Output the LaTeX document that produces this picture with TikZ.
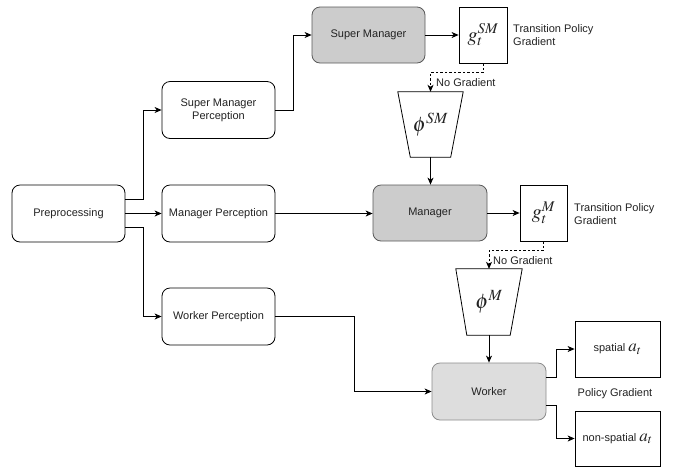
\documentclass[tikz,border=0pt]{standalone}
\usepackage{mathptmx}
\usepackage{fontspec}
\setmainfont{Liberation Sans}
\usetikzlibrary{arrows.meta,calc}
\definecolor{darkfill}{HTML}{CCCCCC}
\definecolor{lightfill}{HTML}{DDDDDD}
\definecolor{txt}{HTML}{222222}
\begin{document}
\begin{tikzpicture}[x=1pt,y=-1pt,
  every node/.style={text=txt},
  box/.style={draw, rounded corners=8pt, minimum width=113pt, minimum height=57pt,
    inner sep=0pt, align=center, font=\fontsize{11}{13}\selectfont, line width=0.8pt},
  gbox/.style={box, fill=darkfill, draw=black!65},
  lbox/.style={box, fill=lightfill, draw=black!45},
  sq/.style={draw, line width=0.8pt, inner sep=0pt, font=\fontsize{20}{22}\selectfont},
  abox/.style={draw, line width=0.8pt, inner sep=0pt, minimum width=85pt, font=\fontsize{11}{13}\selectfont},
  lab/.style={font=\fontsize{11}{13}\selectfont, align=left, inner sep=0pt},
  trap/.style={minimum width=65pt, minimum height=65pt, inner sep=0pt, font=\fontsize{21}{23}\selectfont},
  arr/.style={-{Stealth[length=7pt,width=6pt,inset=2pt]}, line width=0.8pt},
  darr/.style={arr, dash pattern=on 2.5pt off 2pt}
]
\useasboundingbox (0,0) rectangle (682,467);

% left column
\node[box] (pre) at (68.5,213.5) {Preprocessing};
\node[box] (smp) at (218.5,110) {Super Manager\\Perception};
\node[box] (mp) at (218.5,213.5) {Manager Perception};
\node[box] (wp) at (218.5,316.5) {Worker Perception};

% super manager row
\node[gbox, minimum height=56pt] (sm) at (368.5,35) {Super Manager};
\node[sq, minimum width=48pt, minimum height=56pt] (gsm) at (483,35) {$g_t^{SM}$};
\node[lab, anchor=west] (tsm) at (513,35.5) {Transition Policy\\Gradient};

% phi SM
\node[trap] (phism) at (430.5,124.5) {$\phi^{SM}$};
\draw[line width=0.8pt] (phism.north west) -- (phism.north east)
  -- ($(phism.south east)+(-12.5,0)$) -- ($(phism.south west)+(12.5,0)$) -- cycle;
\node[lab, anchor=west] (ngsm) at (436,83) {No Gradient};

% manager row
\node[gbox, minimum width=114pt, minimum height=56pt] (man) at (430,213) {Manager};
\node[sq, minimum width=47pt, minimum height=56pt] (gm) at (543.5,213) {$g_t^{M}$};
\node[lab, anchor=west] (tm) at (574,214.5) {Transition Policy\\Gradient};

% phi M
\node[trap, minimum width=66pt, minimum height=66pt] (phim) at (489,302) {$\phi^{M}$};
\draw[line width=0.8pt] (phim.north west) -- (phim.north east)
  -- ($(phim.south east)+(-12,0)$) -- ($(phim.south west)+(11,0)$) -- cycle;
\node[lab, anchor=west] (ngm) at (493,261) {No Gradient};

% worker row
\node[lbox, minimum width=114pt] (wk) at (489,391.5) {Worker};
\node[abox, minimum height=56pt] (sp) at (617.5,349) {spatial {\fontsize{17}{19}\selectfont$a_t$}};
\node[abox, minimum height=55pt] (ns) at (617.5,438.5) {non-spatial {\fontsize{17}{19}\selectfont$a_t$}};
\node[lab] (pg) at (615,394) {Policy Gradient};

% connectors
\draw[arr] ([yshift=14.5pt]pre.east) -- ++(18,0) |- (smp.west);
\draw[arr] (pre.east) -- (mp.west);
\draw[arr] ([yshift=-13.5pt]pre.east) -- ++(18,0) |- (wp.west);
\draw[arr] (smp.east) -- ++(18,0) |- (sm.west);
\draw[arr] (sm.east) -- (gsm.west);
\draw[darr] (gsm.south) -- ++(0,9) -| (phism.north);
\draw[arr] (phism.south) -- (phism.south |- man.north);
\draw[arr] (mp.east) -- (mp.east -| man.west);
\draw[arr] (man.east) -- (gm.west);
\draw[darr] (gm.south) -- ++(0,9) -| (phim.north);
\draw[arr] (phim.south) -- (phim.south |- wk.north);
\draw[arr] (wp.east) -- ++(79,0) |- (wk.west);
\draw[arr] ([yshift=14.5pt]wk.east) -- ++(10,0) |- (sp.west);
\draw[arr] ([yshift=-13.5pt]wk.east) -- ++(10,0) |- (ns.west);
\end{tikzpicture}
\end{document}
